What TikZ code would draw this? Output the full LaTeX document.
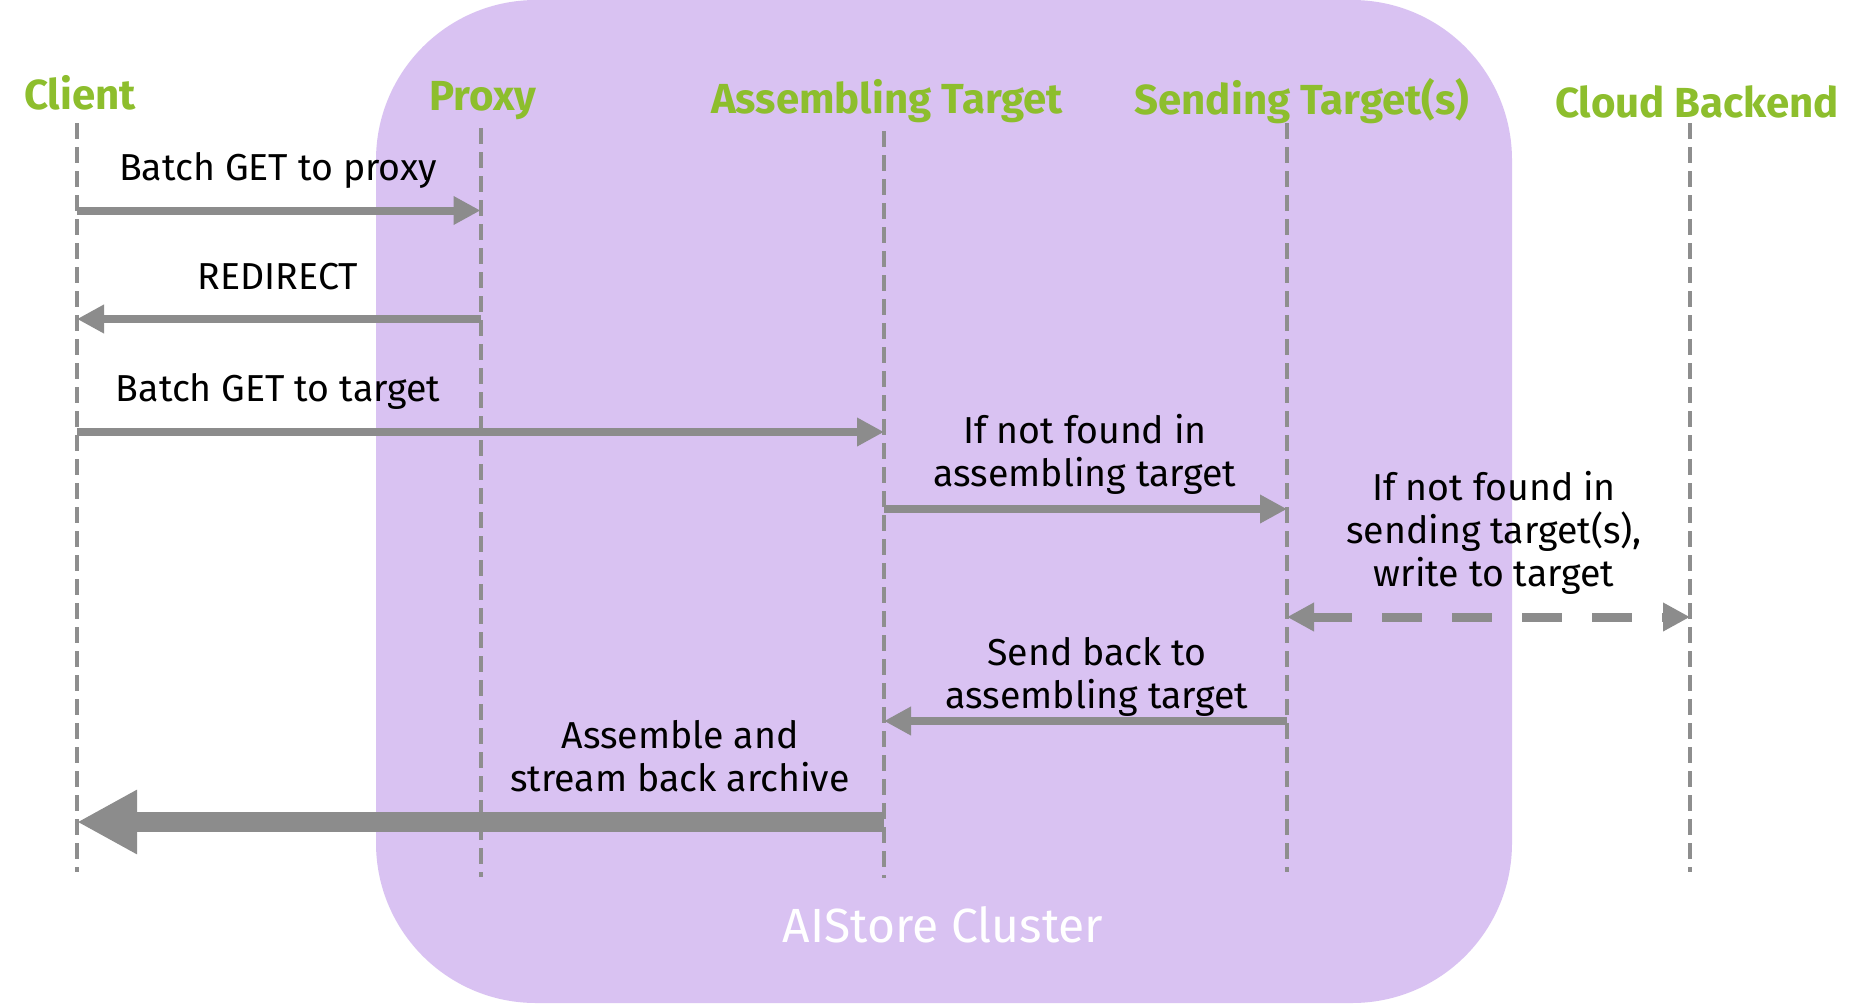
\documentclass[tikz,border=0pt]{standalone}
\usepackage{fontspec}
\setmainfont{Fira Sans}
\usetikzlibrary{arrows.meta}
\definecolor{nvgreen}{HTML}{8DBE2D}
\definecolor{clusterfill}{HTML}{D9C2F2}
\definecolor{arrowgray}{HTML}{8C8C8C}
\definecolor{lifegray}{HTML}{8E8E8E}
\tikzset{
  header/.style={text=nvgreen, font=\fontsize{42}{48}\selectfont\bfseries, inner sep=0pt},
  msg/.style={text=black, font=\fontsize{37.5}{43}\selectfont, align=center, inner sep=0pt},
  lifeline/.style={draw=lifegray, line width=4pt, dash pattern=on 16pt off 8pt},
  call/.style={draw=arrowgray, line width=8pt, -{Triangle[length=27pt,width=27pt]}},
  dcall/.style={draw=arrowgray, line width=9pt, dash pattern=on 40pt off 30pt,
    {Triangle[length=27pt,width=27pt]}-{Triangle[length=27pt,width=27pt]}},
  bigcall/.style={draw=arrowgray, line width=20pt, -{Triangle[length=60pt,width=60pt]}},
}
\begin{document}
\begin{tikzpicture}[x=1pt,y=-1pt]
\useasboundingbox (0,0) rectangle (1865,1004);
\fill[white] (0,0) rectangle (1865,1004);
% cluster
\fill[clusterfill, rounded corners=160pt] (376,0) rectangle (1512,1003);
\node[text=white, font=\fontsize{48}{54}\selectfont, inner sep=0pt] (cluster) at (943,925) {AIStore Cluster};
% headers
\node[header] (client) at (80,93) {Client};
\node[header] (proxy) at (483,101) {Proxy};
\node[header] (asm) at (887,101.5) {Assembling Target};
\node[header] (snd) at (1302,101.5) {Sending Target(s)};
\node[header] (cloud) at (1697,102) {Cloud Backend};
% lifelines
\coordinate (cT) at (77,123);   \coordinate (cB) at (77,872);
\coordinate (pT) at (480.5,128); \coordinate (pB) at (480.5,877);
\coordinate (aT) at (884,131);  \coordinate (aB) at (884,878);
\coordinate (sT) at (1287,123); \coordinate (sB) at (1287,872);
\coordinate (kT) at (1690,123); \coordinate (kB) at (1690,872);
\draw[lifeline] (cT) -- (cB);
\draw[lifeline] (pT) -- (pB);
\draw[lifeline] (aT) -- (aB);
\draw[lifeline] (sT) -- (sB);
\draw[lifeline] (kT) -- (kB);
% message endpoints
\coordinate (c1) at (77,210.5);  \coordinate (p1) at (480.5,210.5);
\coordinate (c2) at (77,319);    \coordinate (p2) at (480.5,319);
\coordinate (c3) at (77,432);    \coordinate (a3) at (884,432);
\coordinate (a4) at (884,509);   \coordinate (s4) at (1287,509);
\coordinate (s5) at (1287,617);  \coordinate (k5) at (1690,617);
\coordinate (s6) at (1287,721);  \coordinate (a6) at (884,721);
\coordinate (a7) at (884,822);   \coordinate (c7) at (77,822);
% messages
\draw[call] (c1) -- (p1);
\node[msg] (l1) at (278,170) {Batch GET to proxy};
\draw[call] (p2) -- (c2);
\node[msg] (l2) at (278,277) {REDIRECT};
\draw[call] (c3) -- (a3);
\node[msg] (l3) at (278,391) {Batch GET to target};
\draw[call] (a4) -- (s4);
\node[msg] (l4) at (1085,454) {If not found in\\assembling target};
\draw[dcall] (s5) -- (k5);
\node[msg] (l5) at (1494,533) {If not found in\\sending target(s),\\write to target};
\draw[call] (s6) -- (a6);
\node[msg] (l6) at (1097,677) {Send back to\\assembling target};
\draw[bigcall] (a7) -- (c7);
\node[msg] (l7) at (680,756) {Assemble and\\stream back archive};
\end{tikzpicture}
\end{document}
